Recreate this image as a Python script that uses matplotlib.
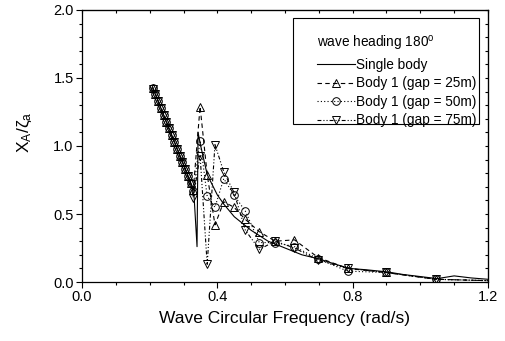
import matplotlib
matplotlib.use("Agg")
import matplotlib.pyplot as plt
from matplotlib.ticker import MultipleLocator, NullFormatter, FormatStrFormatter
from matplotlib.patches import Rectangle

plt.rcParams['font.family'] = ['Liberation Sans', 'DejaVu Sans']
plt.rcParams['mathtext.default'] = 'regular'

# ---- data ----
freq_markers = [0.209, 0.217, 0.225, 0.233, 0.241, 0.249, 0.257, 0.265, 0.273,
                0.281, 0.289, 0.297, 0.305, 0.313, 0.321, 0.329,
                0.349, 0.370, 0.393, 0.419, 0.449, 0.483, 0.524, 0.571,
                0.628, 0.698, 0.785, 0.898, 1.047, 1.200]

gap25 = [1.43, 1.38, 1.33, 1.28, 1.23, 1.18, 1.13, 1.08, 1.03, 0.98, 0.93,
         0.88, 0.83, 0.78, 0.73, 0.68,
         1.29, 0.79, 0.42, 0.59, 0.55, 0.46, 0.37, 0.30, 0.31, 0.18, 0.10,
         0.07, 0.02, 0.01]
gap50 = [1.43, 1.38, 1.33, 1.28, 1.23, 1.18, 1.13, 1.08, 1.03, 0.98, 0.93,
         0.88, 0.83, 0.78, 0.73, 0.67,
         1.04, 0.63, 0.55, 0.76, 0.64, 0.52, 0.29, 0.29, 0.26, 0.17, 0.08,
         0.07, 0.02, 0.01]
gap75 = [1.42, 1.38, 1.33, 1.28, 1.23, 1.18, 1.13, 1.08, 1.03, 0.98, 0.93,
         0.88, 0.83, 0.78, 0.72, 0.62,
         0.93, 0.13, 1.01, 0.81, 0.66, 0.38, 0.24, 0.30, 0.25, 0.16, 0.10,
         0.07, 0.02, 0.01]

freq_single = [0.209, 0.225, 0.241, 0.257, 0.273, 0.289, 0.305, 0.321, 0.331,
               0.340, 0.343, 0.350, 0.370, 0.400, 0.420, 0.450, 0.500, 0.550,
               0.600, 0.650, 0.700, 0.750, 0.790, 0.840, 0.900, 0.950, 1.000,
               1.050, 1.100, 1.150, 1.200]
single = [1.43, 1.33, 1.23, 1.13, 1.03, 0.93, 0.83, 0.73, 0.64,
          0.26, 1.10, 1.01, 0.79, 0.64, 0.57, 0.48, 0.38, 0.30,
          0.25, 0.20, 0.17, 0.13, 0.10, 0.09, 0.075, 0.055, 0.04,
          0.025, 0.045, 0.03, 0.02]

# ---- figure ----
fig = plt.figure(figsize=(5.05, 3.41), dpi=100)
ax = fig.add_axes([0.1624, 0.1730, 0.8039, 0.7977])

lw = 0.8
ms = 5.5
nm = len(freq_markers) - 1
ax.plot(freq_single, single, color='black', lw=lw, label='Single body')
ax.plot(freq_markers, gap25, color='black', lw=lw, ls=(0, (4, 3)),
        marker='^', ms=ms, mfc='none', mec='black', mew=0.7,
        markevery=list(range(nm)), label='Body 1 (gap = 25m)')
ax.plot(freq_markers, gap50, color='black', lw=lw, ls=(0, (1, 2)),
        marker='o', ms=ms, mfc='none', mec='black', mew=0.7,
        markevery=list(range(nm)), label='Body 1 (gap = 50m)')
ax.plot(freq_markers, gap75, color='black', lw=lw, ls=(0, (3.5, 1.8, 1, 1.8, 1, 1.8)),
        marker='v', ms=ms, mfc='none', mec='black', mew=0.7,
        markevery=list(range(nm)), label='Body 1 (gap = 75m)')

ax.set_xlim(0.0, 1.2)
ax.set_ylim(0.0, 2.0)
ax.xaxis.set_major_locator(MultipleLocator(0.4))
ax.xaxis.set_minor_locator(MultipleLocator(0.1))
ax.yaxis.set_major_locator(MultipleLocator(0.5))
ax.yaxis.set_minor_locator(MultipleLocator(0.1))
ax.xaxis.set_major_formatter(FormatStrFormatter('%.1f'))
ax.yaxis.set_major_formatter(FormatStrFormatter('%.1f'))
ax.tick_params(which='major', direction='out', length=4, width=0.8,
               labelsize=10.5, pad=2)
ax.tick_params(which='minor', direction='out', length=2, width=0.8)
for s in ax.spines.values():
    s.set_linewidth(0.9)

# top / right inward ticks
sx = ax.secondary_xaxis('top')
sx.xaxis.set_major_locator(MultipleLocator(0.1))
sx.xaxis.set_major_formatter(NullFormatter())
sx.tick_params(direction='in', length=2.5, width=0.8)
sy = ax.secondary_yaxis('right')
sy.yaxis.set_major_locator(MultipleLocator(0.1))
sy.yaxis.set_major_formatter(NullFormatter())
sy.tick_params(direction='in', length=2.5, width=0.8)

ax.set_xlabel('Wave Circular Frequency (rad/s)', fontsize=12.5, labelpad=5)
ax.set_ylabel('X$_{A}$/ζ$_{a}$', fontsize=12.5)
ax.yaxis.set_label_coords(-0.118, 0.55)

# legend frame (Origin-style box) and entries
ax.add_patch(Rectangle((0.5197, 0.5809), 0.4581, 0.3897, transform=ax.transAxes,
                       fill=True, facecolor='white', edgecolor='black',
                       lw=0.8, zorder=4))
leg = ax.legend(loc='upper left', bbox_to_anchor=(0.578, 0.91),
                borderaxespad=0, borderpad=0, fontsize=9.8,
                title='wave heading 180$^{o}$', title_fontsize=9.8,
                alignment='left', frameon=False,
                handlelength=2.8, handletextpad=0.1, labelspacing=0.33)
leg.set_zorder(5)

fig.savefig('out.png', dpi=100)
